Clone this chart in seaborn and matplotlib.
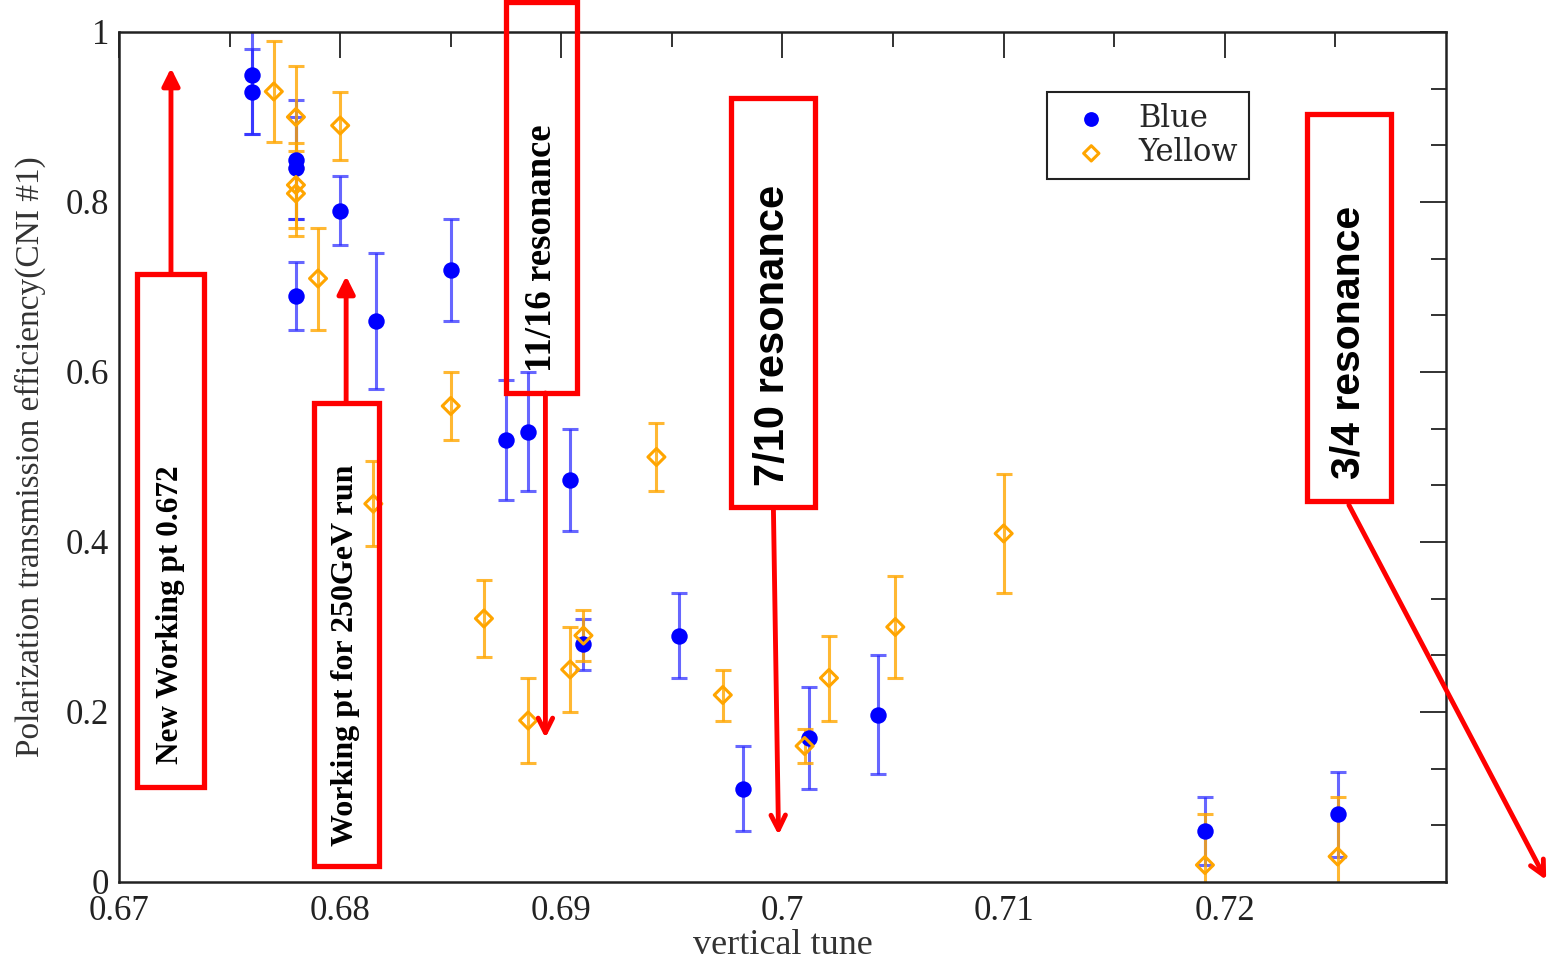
import numpy as np
import pandas as pd
import matplotlib
matplotlib.use("Agg")
import matplotlib.pyplot as plt
import seaborn as sns
from matplotlib.patches import Rectangle, FancyArrowPatch
from matplotlib.ticker import FixedLocator

# ---------------- data ----------------
blue_x = [0.6760, 0.6760, 0.6780, 0.6780, 0.6780, 0.6800, 0.6816, 0.6850, 0.6875,
          0.6885, 0.6904, 0.6910, 0.6953, 0.6982, 0.7012, 0.7043, 0.7191, 0.7251]
blue_y = [0.95, 0.93, 0.85, 0.84, 0.69, 0.79, 0.66, 0.72, 0.52,
          0.53, 0.473, 0.28, 0.29, 0.11, 0.17, 0.197, 0.06, 0.08]
blue_err = [0.07, 0.05, 0.07, 0.06, 0.04, 0.04, 0.08, 0.06, 0.07,
            0.07, 0.06, 0.03, 0.05, 0.05, 0.06, 0.07, 0.04, 0.05]

yellow_x = [0.6770, 0.6780, 0.6780, 0.6780, 0.6800, 0.6790, 0.6815, 0.6850, 0.6865, 0.6885,
            0.6904, 0.6910, 0.6943, 0.6973, 0.7010, 0.7021, 0.7051, 0.7100, 0.7191, 0.7251]
yellow_y = [0.93, 0.90, 0.82, 0.81, 0.89, 0.71, 0.445, 0.56, 0.31, 0.19,
            0.25, 0.29, 0.50, 0.22, 0.16, 0.24, 0.30, 0.41, 0.02, 0.03]
yellow_err = [0.06, 0.06, 0.05, 0.05, 0.04, 0.06, 0.05, 0.04, 0.045, 0.05,
              0.05, 0.03, 0.04, 0.03, 0.02, 0.05, 0.06, 0.07, 0.06, 0.07]

x_ticks = [0.67, 0.68, 0.69, 0.70, 0.71, 0.72]
x_tick_labels = ["0.67", "0.68", "0.69", "0.7", "0.71", "0.72"]
y_ticks = [0, 0.2, 0.4, 0.6, 0.8, 1.0]
y_tick_labels = ["0", "0.2", "0.4", "0.6", "0.8", "1"]

x_label = "vertical tune"
y_label = "Polarization transmission efficiency(CNI #1)"
series_names = ["Blue", "Yellow"]

ann_texts = ["New Working pt 0.672", "Working pt for 250GeV run", "11/16 resonance",
             "7/10 resonance", "3/4 resonance"]

# ---------------- style ----------------
sns.set_style("white")
plt.rcParams["font.family"] = ["Liberation Serif", "DejaVu Serif"]

df_b = pd.DataFrame({"tune": blue_x, "eff": blue_y, "err": blue_err})
df_y = pd.DataFrame({"tune": yellow_x, "eff": yellow_y, "err": yellow_err})

fig = plt.figure(figsize=(15.47, 9.59), dpi=100)
ax = fig.add_axes([119 / 1547, 77 / 959, 1327 / 1547, 850 / 959])

blue_c = "#0000FF"
yel_c = "#FFA500"

ax.errorbar(df_b["tune"], df_b["eff"], yerr=df_b["err"], fmt="none",
            ecolor=(0.15, 0.15, 1.0, 0.7), elinewidth=2.2, capsize=6, capthick=2.2, zorder=2)
ax.errorbar(df_y["tune"], df_y["eff"], yerr=df_y["err"], fmt="none",
            ecolor=(1.0, 0.65, 0.0, 0.8), elinewidth=2.2, capsize=6, capthick=2.2, zorder=2)

sns.scatterplot(data=df_b, x="tune", y="eff", ax=ax, marker="o", s=140,
                color=blue_c, edgecolor=blue_c, linewidth=0, label=series_names[0], zorder=3)
sns.scatterplot(data=df_y, x="tune", y="eff", ax=ax, marker="D", s=75,
                facecolor="none", edgecolor=yel_c, linewidth=2.2, label=series_names[1], zorder=3)

ax.set_xlim(0.67, 0.73)
ax.set_ylim(0, 1)
ax.xaxis.set_major_locator(FixedLocator(x_ticks))
ax.set_xticklabels(x_tick_labels)
ax.xaxis.set_minor_locator(FixedLocator([0.675, 0.685, 0.695, 0.705, 0.715, 0.725]))
ax.yaxis.set_major_locator(FixedLocator(y_ticks))
ax.set_yticklabels(y_tick_labels)
ax.yaxis.set_minor_locator(FixedLocator([i / 15 for i in range(16) if i % 3 != 0]))
ax.tick_params(which="both", direction="in", top=True, right=True, colors="#222222",
               labelsize=25, width=1.3)
ax.tick_params(which="major", length=19)
ax.tick_params(axis="x", which="major", pad=9)
ax.tick_params(axis="y", which="major", pad=7)
ax.tick_params(which="minor", length=11)
for sp in ax.spines.values():
    sp.set_linewidth(1.8)
    sp.set_color("#222222")

ax.set_xlabel(x_label, fontsize=26, color="#333333", labelpad=1)
ax.set_ylabel(y_label, fontsize=24, color="#333333", labelpad=14)

leg = ax.legend(loc="upper left", bbox_to_anchor=(0.6993, 0.9294), borderaxespad=0,
                prop={"family": ["DejaVu Serif"], "size": 22},
                frameon=True, fancybox=False, framealpha=1, edgecolor="#222222",
                handletextpad=0.45, borderpad=0.35, labelspacing=0.12, markerscale=0.9,
                handlelength=2.2)
leg.get_frame().set_linewidth(1.5)

# ---------------- annotations ----------------
red = "#FF0000"
boxes = [(0.67081, 0.67385, 0.1118, 0.7153),
         (0.67882, 0.68176, 0.0188, 0.5635),
         (0.68751, 0.69072, 0.5753, 1.0353),
         (0.69765, 0.70149, 0.4412, 0.9224),
         (0.72371, 0.72751, 0.4482, 0.9035)]
text_pos = [(0.67232, 0.3147), (0.68022, 0.2671), (0.6891, 0.7459),
            (0.69959, 0.6435), (0.72561, 0.6353)]
text_fonts = [(["Liberation Serif"], 22.5), (["Liberation Serif"], 23), (["Liberation Serif"], 26.5),
              (["Liberation Sans"], 30), (["Liberation Sans"], 29.5)]
for (x0, x1, y0, y1), (tx, ty), txt, (fam, fs) in zip(boxes, text_pos, ann_texts, text_fonts):
    r = Rectangle((x0, y0), x1 - x0, y1 - y0, fill=False, edgecolor=red, linewidth=3.8,
                  clip_on=False, zorder=5)
    ax.add_patch(r)
    ax.text(tx, ty, txt, rotation=90, ha="center", va="center", fontsize=fs,
            family=fam, fontweight="bold", color="black", clip_on=False, zorder=6)

arrows = [((0.67235, 0.7153), (0.67235, 0.9576), "-|>"),
          ((0.68027, 0.5635), (0.68027, 0.7129), "-|>"),
          ((0.68928, 0.5753), (0.68928, 0.1694), "->"),
          ((0.69959, 0.4376), (0.69982, 0.0553), "->"),
          ((0.72561, 0.4435), (0.73453, 0.0024), "->")]
for (sx, sy), (ex, ey), style in arrows:
    a = FancyArrowPatch((sx, sy), (ex, ey), arrowstyle=style, mutation_scale=26,
                        color=red, linewidth=3.5, clip_on=False, zorder=5,
                        shrinkA=0, shrinkB=0)
    ax.add_patch(a)

fig.savefig("out.png", dpi=100)
